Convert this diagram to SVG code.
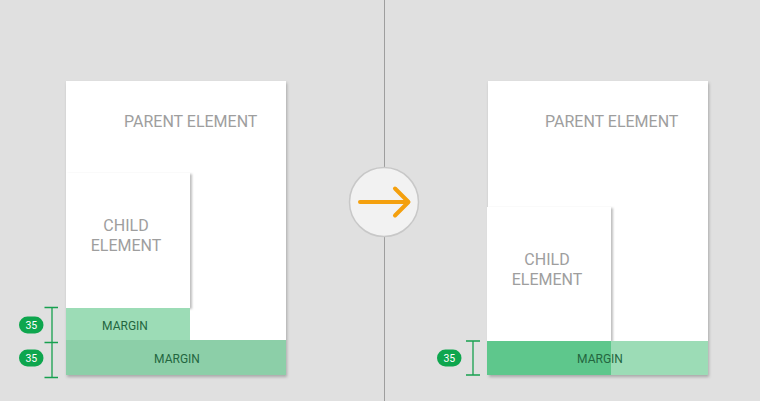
<svg xmlns="http://www.w3.org/2000/svg" width="760" height="401" viewBox="0 0 760 401">
<defs>
<style>
.lbl{font-family:Roboto,"Liberation Sans",sans-serif;fill:#9e9e9e;font-size:16px}
.mg{font-family:Roboto,"Liberation Sans",sans-serif;fill:#23663f;font-size:12px;text-anchor:middle}
.badge{fill:#0ea64e}
.bt{font-family:Roboto,"Liberation Sans",sans-serif;fill:#fff;font-size:10.5px;text-anchor:middle}
.dim{stroke:#17a04f;stroke-width:1.3;fill:none}
</style>
<filter id="sh" x="-10%" y="-10%" width="125%" height="125%">
<feDropShadow dx="1" dy="2" stdDeviation="1.8" flood-color="#000" flood-opacity="0.25"/>
</filter>
<filter id="shc" x="-10%" y="-10%" width="125%" height="125%">
<feDropShadow dx="2" dy="1" stdDeviation="1.2" flood-color="#000" flood-opacity="0.25"/>
</filter>
</defs>
<rect width="760" height="401" fill="#e0e0e0"/>
<line x1="384.5" y1="0" x2="384.5" y2="401" stroke="#9e9e9e" stroke-width="1"/>

<g id="left-panel">
<rect x="66" y="81" width="220" height="294" fill="#fff" filter="url(#sh)"/>
<text class="lbl" x="124" y="127">PARENT ELEMENT</text>
</g>
<g id="left-child">
<rect x="66" y="173" width="124" height="135" fill="#fff" filter="url(#shc)"/>
<text class="lbl" x="126" y="231" text-anchor="middle">CHILD</text>
<text class="lbl" x="126" y="251" text-anchor="middle">ELEMENT</text>
</g>
<g id="left-child-margin">
<rect x="66" y="308" width="124" height="32" fill="#9cdcb6"/>
<text class="mg" x="125" y="330">MARGIN</text>
</g>
<g id="left-parent-margin">
<rect x="66" y="340" width="220" height="35" fill="#8ccfa8"/>
<text class="mg" x="177" y="363">MARGIN</text>
</g>
<g id="left-dimension">
<path class="dim" d="M52 307.5V377.5M44.5 307.5H58M44.5 342.5H58M44.5 377.5H58"/>
<rect class="badge" x="19" y="316.5" width="24.5" height="17" rx="8.5"/>
<text class="bt" x="31.3" y="328.7">35</text>
<rect class="badge" x="19" y="349.5" width="24.5" height="17" rx="8.5"/>
<text class="bt" x="31.3" y="361.7">35</text>
</g>

<g id="arrow-node">
<circle cx="384" cy="202" r="34.5" fill="#f2f2f2" stroke="#c8c8c8" stroke-width="1.5"/>
<path d="M360 202H408M395 188.5L408.5 202L395 215.5" fill="none" stroke="#f4a00e" stroke-width="4" stroke-linecap="round" stroke-linejoin="round"/>
</g>

<g id="right-panel">
<rect x="488" y="81" width="220" height="294" fill="#fff" filter="url(#sh)"/>
<text class="lbl" x="545" y="127">PARENT ELEMENT</text>
</g>
<g id="right-child">
<rect x="487" y="207" width="124" height="134" fill="#fff" filter="url(#shc)"/>
<text class="lbl" x="547" y="265" text-anchor="middle">CHILD</text>
<text class="lbl" x="547" y="285" text-anchor="middle">ELEMENT</text>
</g>
<g id="right-margin">
<rect x="611" y="341" width="97" height="34" fill="#9cdcb6"/>
<rect x="487" y="341" width="124" height="34" fill="#5ec78c"/>
<text class="mg" x="600" y="363">MARGIN</text>
</g>
<g id="right-dimension">
<path class="dim" d="M473 341V375M466 341H480M466 375H480"/>
<rect class="badge" x="437" y="349.5" width="24.5" height="17" rx="8.5"/>
<text class="bt" x="449.3" y="361.7">35</text>
</g>
</svg>
